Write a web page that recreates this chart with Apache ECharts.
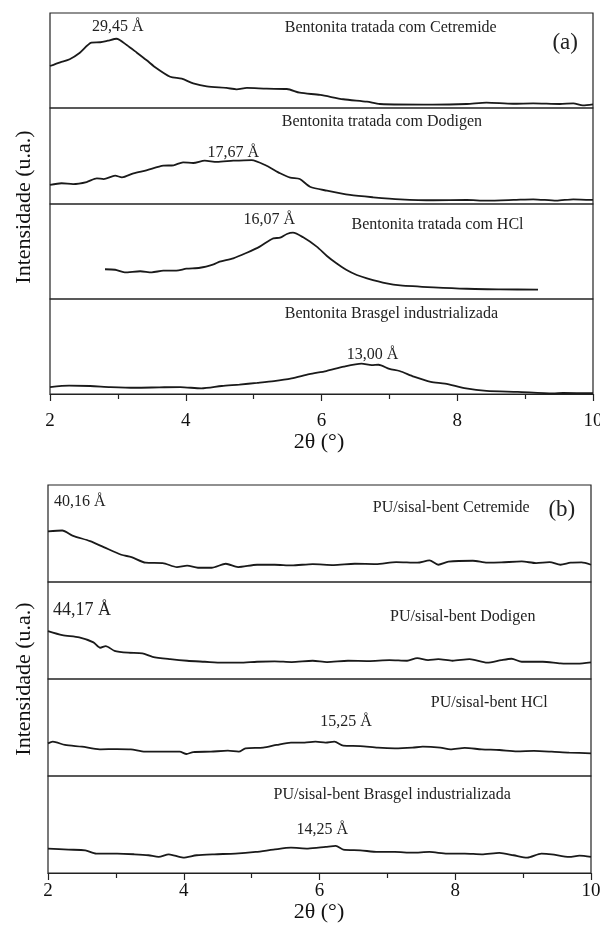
<!DOCTYPE html>
<html>
<head>
<meta charset="utf-8">
<script src="https://cdn.jsdelivr.net/npm/echarts@6/dist/echarts.min.js"></script>
<style>
html,body{margin:0;padding:0;background:#fff;}
#chart{width:600px;height:931px;}
</style>
</head>
<body>
<div id="chart"></div>
<script>
// ---------- DATA (2θ in degrees, intensity in relative units 0-100 per panel) ----------
const X_TICKS = [2, 4, 6, 8, 10];

// (a) Bentonita tratada com Cetremide
const A1_X = [2.00,2.15,2.29,2.44,2.61,2.74,2.85,2.98,3.13,3.28,3.42,3.57,3.77,3.94,4.11,4.31,4.60,4.75,4.90,5.19,5.49,5.68,5.98,6.32,6.67,6.86,7.64,8.14,8.43,8.82,9.12,9.51,9.71,9.85,10.0];
const A1_Y = [44.2,48.1,51.3,58.2,68.7,69.2,70.8,72.9,66.3,58.2,50.5,41.8,32.9,30.8,26.0,22.8,21.1,19.7,21.1,20.3,20.0,16.1,13.7,9.2,6.6,4.2,3.5,4.2,5.6,4.5,4.9,4.2,4.9,2.8,3.9];
// (a) Bentonita tratada com Dodigen
const A2_X = [2.00,2.17,2.34,2.54,2.69,2.79,2.96,3.06,3.23,3.42,3.67,3.82,3.96,4.11,4.28,4.46,4.70,4.97,5.19,5.39,5.54,5.68,5.83,6.08,6.42,6.76,7.16,7.65,8.14,8.43,8.83,9.12,9.46,9.71,10.0];
const A2_Y = [19.8,21.6,20.8,22.9,26.7,26.0,29.5,27.8,32.0,35.1,39.9,40.3,43.4,42.7,45.1,43.8,45.1,45.8,39.9,32.0,27.4,26.0,18.0,13.9,9.4,7.0,4.9,3.9,4.2,3.5,4.2,4.9,3.5,4.9,4.2];
// (a) Bentonita tratada com HCl
const A3_X = [2.81,2.96,3.10,3.33,3.50,3.67,3.86,4.01,4.21,4.41,4.50,4.70,4.90,5.09,5.29,5.39,5.49,5.58,5.73,5.93,6.08,6.22,6.37,6.52,6.67,6.96,7.16,7.65,8.14,8.63,9.19];
const A3_Y = [31.3,30.8,28.1,29.2,28.1,29.8,29.8,31.9,32.9,36.5,39.3,42.8,48.7,55.1,63.9,64.5,68.4,69.8,64.9,55.1,45.3,37.6,30.5,25.3,21.8,16.5,14.4,12.3,10.8,10.2,9.8];
// (a) Bentonita Brasgel industrializada
const A4_X = [2.00,2.28,2.59,2.89,3.25,3.61,3.92,4.23,4.53,4.79,5.05,5.30,5.56,5.82,6.07,6.33,6.59,6.74,6.84,7.00,7.15,7.36,7.61,7.82,8.13,8.43,8.89,9.41,9.56,10.0];
const A4_Y = [7.3,8.8,8.4,7.3,6.6,7.0,7.3,5.9,8.4,9.9,11.7,13.6,16.5,20.9,24.2,28.9,31.9,30.4,30.8,26.4,24.2,18.3,12.8,11.0,5.9,3.3,2.2,0.6,1.1,0.8];

// (b) PU/sisal-bent Cetremide
const B1_X = [2.00,2.21,2.36,2.62,2.82,3.08,3.23,3.44,3.69,3.90,4.05,4.21,4.41,4.62,4.80,5.08,5.34,5.59,5.90,6.21,6.52,6.83,7.13,7.44,7.62,7.75,7.90,8.26,8.47,8.68,8.98,9.19,9.39,9.55,9.70,9.86,10.0];
const B1_Y = [52.1,53.1,47.9,42.1,36.0,28.1,25.7,19.9,19.5,15.4,16.8,14.7,14.7,18.8,15.4,17.8,17.8,17.1,18.5,17.5,18.8,18.5,20.5,19.9,22.3,17.8,20.9,21.9,19.9,20.2,21.2,19.5,20.5,17.8,19.9,20.2,17.8];
// (b) PU/sisal-bent Dodigen
const B2_X = [2.00,2.21,2.46,2.67,2.77,2.85,2.98,3.18,3.39,3.54,3.80,4.05,4.31,4.57,4.82,5.08,5.34,5.59,5.90,6.11,6.42,6.72,7.03,7.29,7.44,7.60,7.75,7.96,8.21,8.47,8.68,8.83,8.98,9.29,9.55,9.80,10.0];
const B2_Y = [49.3,45.2,42.8,37.7,32.2,33.9,29.1,27.1,26.4,22.9,20.5,18.8,17.8,16.8,16.8,17.8,18.2,17.5,18.8,17.5,18.8,18.5,19.5,18.8,21.6,19.5,20.5,18.8,20.5,16.8,19.5,20.9,17.8,17.8,16.1,15.8,17.1];
// (b) PU/sisal-bent HCl
const B3_X = [2.00,2.07,2.25,2.50,2.76,3.02,3.22,3.43,3.68,3.94,4.04,4.14,4.40,4.65,4.81,4.91,5.17,5.37,5.58,5.78,5.94,6.09,6.22,6.35,6.60,6.86,7.11,7.37,7.52,7.78,7.93,8.14,8.39,8.65,8.91,9.16,9.42,9.68,10.0];
const B3_Y = [33.7,35.4,32.0,30.2,27.5,27.8,27.5,25.1,25.1,25.1,22.7,24.7,25.1,26.1,25.1,28.5,29.2,32.0,34.4,34.4,35.4,34.4,35.4,31.3,30.9,29.2,28.5,29.2,30.2,29.2,27.5,28.9,27.5,26.8,25.4,25.8,25.1,24.1,23.4];
// (b) PU/sisal-bent Brasgel industrializada
const B4_X = [2.00,2.30,2.55,2.71,3.02,3.27,3.48,3.63,3.78,3.99,4.19,4.45,4.76,5.06,5.32,5.58,5.83,6.09,6.24,6.35,6.60,6.86,7.11,7.37,7.62,7.88,8.14,8.39,8.65,8.86,9.06,9.27,9.42,9.68,9.83,10.0];
const B4_Y = [25.2,24.1,23.4,20.0,20.0,19.3,18.3,16.6,19.3,15.9,18.3,19.3,20.0,21.7,24.1,26.2,25.2,26.9,27.9,24.1,23.4,21.7,21.7,21.0,21.7,20.0,20.0,19.3,20.7,18.3,15.9,20.0,19.3,16.6,17.9,16.6];

const SERIES_X = [A1_X, A2_X, A3_X, A4_X, B1_X, B2_X, B3_X, B4_X];
const SERIES_Y = [A1_Y, A2_Y, A3_Y, A4_Y, B1_Y, B2_Y, B3_Y, B4_Y];

const TITLES = ['Bentonita tratada com Cetremide','Bentonita tratada com Dodigen','Bentonita tratada com HCl','Bentonita Brasgel industrializada',
                'PU/sisal-bent Cetremide','PU/sisal-bent Dodigen','PU/sisal-bent HCl','PU/sisal-bent Brasgel industrializada'];
const PEAK_LABELS = ['29,45 Å','17,67 Å','16,07 Å','13,00 Å','40,16 Å','44,17 Å','15,25 Å','14,25 Å'];
const PANEL_LETTERS = ['(a)','(b)'];
const X_NAME = '2θ (°)';
const Y_NAME = 'Intensidade (u.a.)';

// ---------- LAYOUT ----------
const FONT = '"Liberation Serif","Times New Roman",serif';
const INK = '#1a1a1a';
const GRIDS = [
  {left:50, top:13,  width:543, height:95},
  {left:50, top:108, width:543, height:96},
  {left:50, top:204, width:543, height:95},
  {left:50, top:299, width:543, height:95},
  {left:48, top:485, width:543, height:97},
  {left:48, top:582, width:543, height:97},
  {left:48, top:679, width:543, height:97},
  {left:48, top:776, width:543, height:97}
];
// annotation anchor points in data coords of each sub-panel
const TITLE_POS = [[7.02,84.2],[6.89,85.7],[7.71,77.9],[7.03,84.9],[7.94,76],[8.11,64.2],[8.50,75],[7.07,80.4]];
const PEAK_POS  = [[3.0,85.3],[4.70,53.5],[5.23,83.2],[6.75,41.1],[2.47,82.8],[2.50,71.1],[6.39,56],[6.04,44.3]];
const PEAK_SIZE = [16,16,16,16,16,18,16,16];
const LETTER_POS = [[0,[9.59,68.4]],[4,[9.57,74.2]]];

const chart = echarts.init(document.getElementById('chart'), null, {renderer:'canvas'});

const grids = GRIDS.map(g => Object.assign({show:true, borderColor:'#222', borderWidth:1.2, backgroundColor:'transparent', containLabel:false, outerBoundsMode:'none'}, g));
const xAxes = GRIDS.map((g,i) => {
  const bottom = (i === 3 || i === 7);
  return {
    type:'value', gridIndex:i, min:2, max:10, interval:2,
    show: bottom,
    axisLine:{show:true, lineStyle:{color:'#222', width:1.2}},
    axisTick:{show:true, inside:false, length:7, lineStyle:{color:'#222', width:1.2}},
    minorTick:{show:true, splitNumber:2, length:5, lineStyle:{color:'#222', width:1.2}},
    axisLabel:{show:true, margin: i===3 ? 18 : 9, color:'#111', fontFamily:FONT, fontSize:19,
               formatter: v => X_TICKS.indexOf(v) >= 0 ? String(v) : ''},
    splitLine:{show:false}
  };
});
const yAxes = GRIDS.map((g,i) => ({type:'value', gridIndex:i, min:0, max:100, show:false, splitLine:{show:false}}));

const series = SERIES_X.map((xs,i) => {
  const mp = [
    {coord:TITLE_POS[i], label:{formatter:TITLES[i], fontSize:16}},
    {coord:PEAK_POS[i], label:{formatter:PEAK_LABELS[i], fontSize:PEAK_SIZE[i]}}
  ];
  LETTER_POS.forEach((lp,k) => { if (lp[0] === i) mp.push({coord:lp[1], label:{formatter:PANEL_LETTERS[k], fontSize:23}}); });
  return {
    type:'line', xAxisIndex:i, yAxisIndex:i,
    data: xs.map((x,j) => [x, SERIES_Y[i][j]]),
    showSymbol:false, smooth:0.25, silent:true, animation:false,
    lineStyle:{color:INK, width:1.8},
    markPoint:{
      symbol:'circle', symbolSize:1, itemStyle:{color:'rgba(0,0,0,0)'}, animation:false, silent:true,
      label:{show:true, position:'inside', color:'#222', fontFamily:FONT},
      data: mp
    }
  };
});

const graphic = [
  {type:'text', x:319, y:442, style:{text:X_NAME, font:'22px '+FONT, fill:'#111', textAlign:'center', textVerticalAlign:'middle'}},
  {type:'text', x:319, y:912, style:{text:X_NAME, font:'22px '+FONT, fill:'#111', textAlign:'center', textVerticalAlign:'middle'}},
  {type:'text', x:24, y:207, rotation:Math.PI/2, style:{text:Y_NAME, font:'22px '+FONT, fill:'#111', textAlign:'center', textVerticalAlign:'middle'}},
  {type:'text', x:24, y:679, rotation:Math.PI/2, style:{text:Y_NAME, font:'22px '+FONT, fill:'#111', textAlign:'center', textVerticalAlign:'middle'}}
];

chart.setOption({
  animation:false,
  backgroundColor:'#fff',
  grid:grids, xAxis:xAxes, yAxis:yAxes, series:series, graphic:graphic
});
</script>
</body>
</html>
